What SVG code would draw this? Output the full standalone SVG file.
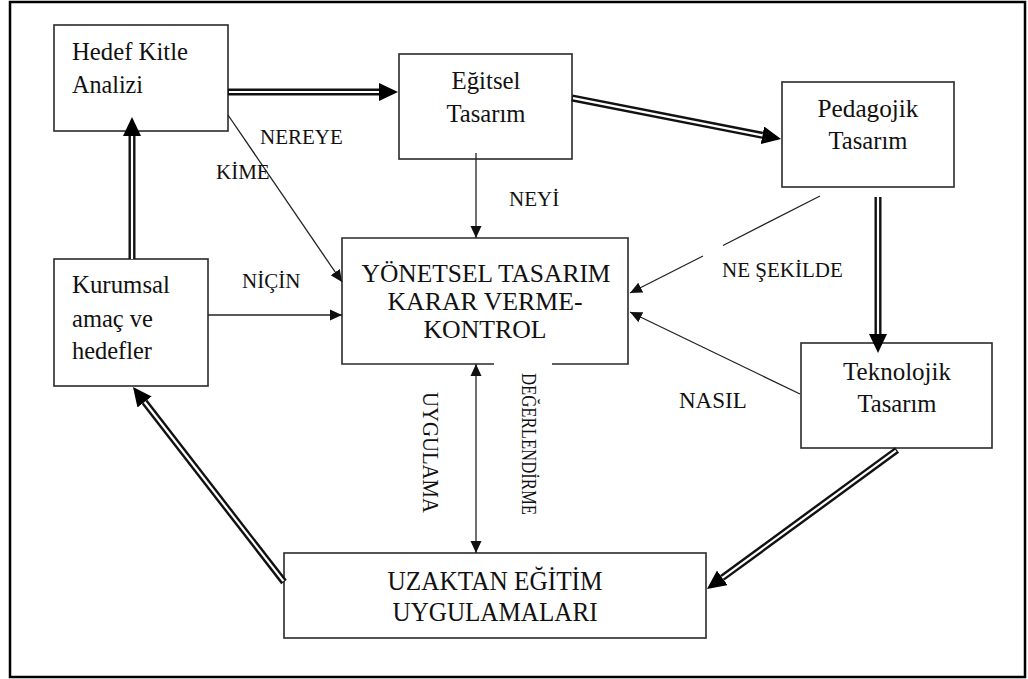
<svg xmlns="http://www.w3.org/2000/svg" width="1028" height="679" viewBox="0 0 1028 679">
  <style>
    .box { fill: #ffffff; stroke: #2a2a2a; stroke-width: 1.6; }
    .txt { font-family: "Liberation Serif", "Times New Roman", serif; fill: #111111; }
    .main { font-size: 26px; }
    .big { font-size: 28px; }
    .mgmt { font-size: 25px; }
    .lbl { font-size: 21px; }
    .thin { fill: none; stroke: #222222; stroke-width: 1.3; }
    .dbl-out { fill: none; stroke: #111111; stroke-width: 7; }
    .dbl-in { fill: none; stroke: #ffffff; stroke-width: 2.2; }
  </style>
  <defs>
    <marker id="tip" viewBox="0 0 12 12" refX="12" refY="6" markerWidth="12" markerHeight="12" markerUnits="userSpaceOnUse" orient="auto-start-reverse">
      <path d="M0,0.5 L12,6 L0,11.5 z" fill="#111111"/>
    </marker>
    <marker id="bigtip" viewBox="0 0 19 18" refX="0" refY="9" markerWidth="19" markerHeight="18" markerUnits="userSpaceOnUse" orient="auto">
      <path d="M0,0 L19,9 L0,18 z" fill="#000000"/>
    </marker>
  </defs>

  <rect x="0" y="0" width="1028" height="679" fill="#ffffff"/>
  <!-- outer frame -->
  <rect x="10" y="2" width="1015" height="675" fill="none" stroke="#000000" stroke-width="2.5"/>

  <!-- nodes -->
  <g id="hedef-kitle">
    <rect class="box" x="54" y="25" width="174" height="106"/>
    <text class="txt main" x="72" y="60" textLength="116" lengthAdjust="spacingAndGlyphs">Hedef Kitle</text>
    <text class="txt main" x="72" y="93" textLength="71" lengthAdjust="spacingAndGlyphs">Analizi</text>
  </g>
  <g id="egitsel">
    <rect class="box" x="399" y="54" width="173" height="105"/>
    <text class="txt main" x="486" y="89" text-anchor="middle" textLength="69" lengthAdjust="spacingAndGlyphs">Eğitsel</text>
    <text class="txt main" x="486" y="122" text-anchor="middle" textLength="79" lengthAdjust="spacingAndGlyphs">Tasarım</text>
  </g>
  <g id="pedagojik">
    <rect class="box" x="782" y="82" width="172" height="105"/>
    <text class="txt main" x="868" y="117" text-anchor="middle" textLength="101" lengthAdjust="spacingAndGlyphs">Pedagojik</text>
    <text class="txt main" x="868" y="149" text-anchor="middle" textLength="79" lengthAdjust="spacingAndGlyphs">Tasarım</text>
  </g>
  <g id="kurumsal">
    <rect class="box" x="54" y="259" width="154" height="127"/>
    <text class="txt main" x="72" y="293" textLength="98" lengthAdjust="spacingAndGlyphs">Kurumsal</text>
    <text class="txt main" x="72" y="327" textLength="81" lengthAdjust="spacingAndGlyphs">amaç ve</text>
    <text class="txt main" x="72" y="359" textLength="80" lengthAdjust="spacingAndGlyphs">hedefler</text>
  </g>
  <g id="yonetsel">
    <rect x="342" y="238" width="286" height="126" fill="#ffffff"/>
    <path d="M494,364 H342 V238 H628 V364 H552" fill="none" stroke="#2a2a2a" stroke-width="1.6"/>
    <text class="txt mgmt" x="486" y="282" text-anchor="middle" textLength="249" lengthAdjust="spacingAndGlyphs">YÖNETSEL TASARIM</text>
    <text class="txt mgmt" x="485" y="310" text-anchor="middle" textLength="195" lengthAdjust="spacingAndGlyphs">KARAR VERME-</text>
    <text class="txt mgmt" x="485" y="338" text-anchor="middle" textLength="123" lengthAdjust="spacingAndGlyphs">KONTROL</text>
  </g>
  <g id="teknolojik">
    <rect class="box" x="801" y="343" width="191" height="105"/>
    <text class="txt main" x="897" y="380" text-anchor="middle" textLength="108" lengthAdjust="spacingAndGlyphs">Teknolojik</text>
    <text class="txt main" x="897" y="412" text-anchor="middle" textLength="79" lengthAdjust="spacingAndGlyphs">Tasarım</text>
  </g>
  <g id="uzaktan">
    <rect class="box" x="284" y="553" width="422" height="85"/>
    <text class="txt big" x="495" y="590" text-anchor="middle" textLength="215" lengthAdjust="spacingAndGlyphs">UZAKTAN EĞİTİM</text>
    <text class="txt big" x="495" y="621" text-anchor="middle" textLength="205" lengthAdjust="spacingAndGlyphs">UYGULAMALARI</text>
  </g>

  <!-- connectors -->
  <g id="connectors">
    <!-- double-line flow arrows -->
    <path class="dbl-out" d="M228,92 L379,92" marker-end="url(#bigtip)"/>
    <path class="dbl-in" d="M229,92 L379,92"/>

    <path class="dbl-out" d="M572,98 L762.4,135.3" marker-end="url(#bigtip)"/>
    <path class="dbl-in" d="M573,98.2 L762.4,135.3"/>

    <path class="dbl-out" d="M878,197 L878,334" marker-end="url(#bigtip)"/>
    <path class="dbl-in" d="M878,197 L878,334"/>

    <path class="dbl-out" d="M897,450 L722.3,577.8" marker-end="url(#bigtip)"/>
    <path class="dbl-in" d="M896,450.7 L722.3,577.8"/>

    <path class="dbl-out" d="M284,582 L144.6,402" marker-end="url(#bigtip)"/>
    <path class="dbl-in" d="M283.4,581.2 L144.6,402"/>

    <path class="dbl-out" d="M132,259 L132,136" marker-end="url(#bigtip)"/>
    <path class="dbl-in" d="M132,259 L132,136"/>

    <!-- single-line arrows into the management box -->
    <path class="thin" d="M228,115 L342,282" marker-end="url(#tip)"/>
    <path class="thin" d="M476,153 L476,238" marker-end="url(#tip)"/>
    <path class="thin" d="M208,315 L342,315" marker-end="url(#tip)"/>
    <path class="thin" d="M820,196 L723,245.5"/>
    <path class="thin" d="M703,256 L630,293" marker-end="url(#tip)"/>
    <path class="thin" d="M800,394 L630,312" marker-end="url(#tip)"/>
    <path class="thin" d="M476,364 L476,553" marker-start="url(#tip)" marker-end="url(#tip)"/>

    <!-- connector labels -->
    <text class="txt lbl" x="260" y="144">NEREYE</text>
    <text class="txt lbl" x="216" y="179">KİME</text>
    <text class="txt lbl" x="242" y="288">NİÇİN</text>
    <text class="txt lbl" x="509" y="206">NEYİ</text>
    <text class="txt lbl" x="722" y="277">NE ŞEKİLDE</text>
    <text class="txt" x="679" y="408" font-size="23">NASIL</text>
    <text class="txt" transform="translate(423,392) rotate(90)" font-size="24" textLength="121" lengthAdjust="spacingAndGlyphs">UYGULAMA</text>
    <text class="txt" transform="translate(522,373) rotate(90)" font-size="20" textLength="142" lengthAdjust="spacingAndGlyphs">DEĞERLENDİRME</text>
  </g>
</svg>
